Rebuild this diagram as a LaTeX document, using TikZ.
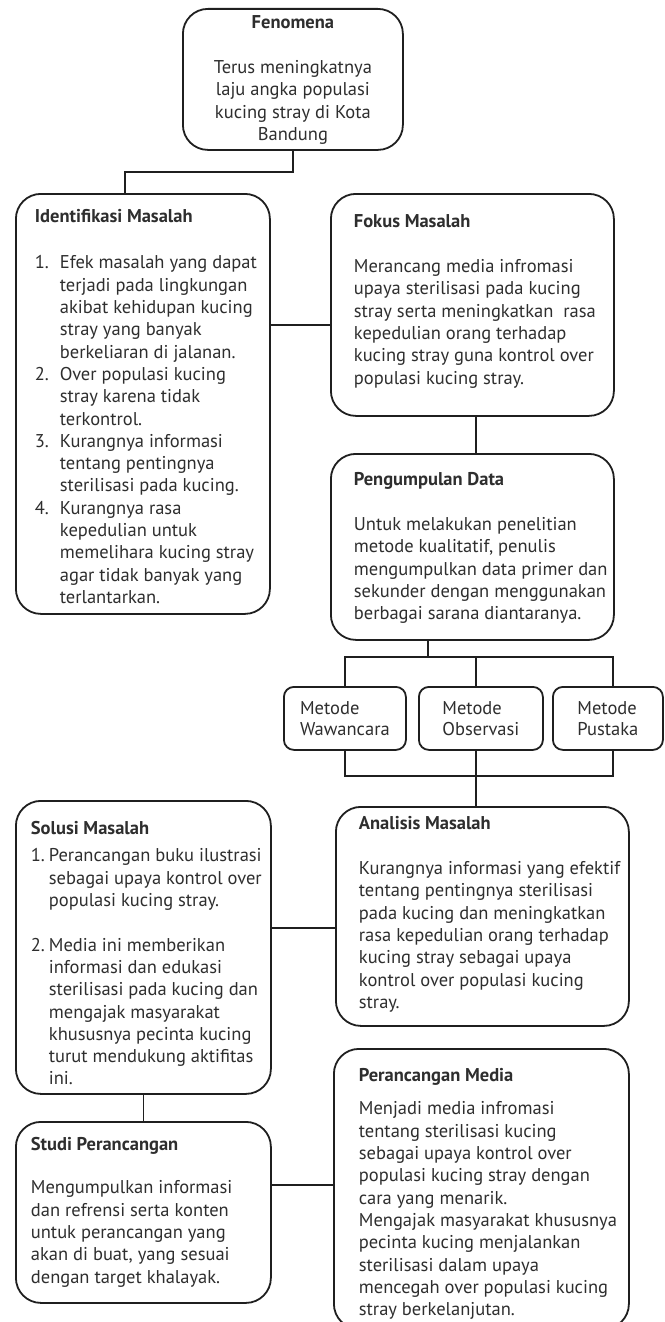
\documentclass[tikz,border=0pt]{standalone}
\usepackage{fontspec}
\setmainfont{PT Sans}
\usetikzlibrary{calc}
% box content: width, height, left pad, first baseline offset, text
\newcommand\bx[5]{\parbox[c][#2pt][t]{#1pt}{\leftskip=#3pt\rightskip=0pt plus 1fil\parfillskip=0pt plus 1fil\parindent=0pt\fontsize{18.5pt}{22.3pt}\selectfont\rule{0pt}{#4pt}#5}}
\newcommand\bxc[4]{\parbox[c][#2pt][t]{#1pt}{\centering\parindent=0pt\fontsize{18.5pt}{22.3pt}\selectfont\rule{0pt}{#3pt}#4}}
\newcommand\numa[1]{\makebox[25pt][l]{#1}}
\newcommand\inda{\hspace*{25pt}}
\newcommand\numb[1]{\makebox[18pt][l]{#1}}
\newcommand\indb{\hspace*{18pt}}
\tikzset{
  box/.style={draw=black!88, line width=1.8pt, rounded corners=25pt, fill=white,
    anchor=north west, inner sep=0pt, text=black!82},
  mbox/.style={draw=black!88, line width=1.8pt, rounded corners=10pt, fill=white,
    anchor=north west, inner sep=0pt, text=black!82, align=left,
    font=\fontsize{18.5pt}{21.5pt}\selectfont},
  conn/.style={draw=black!88, line width=1.8pt},
}
\begin{document}
\begin{tikzpicture}[x=1pt,y=-1pt]
\useasboundingbox (0,0) rectangle (664,1322);

\node[box] (fen) at (182,8) {\bxc{220}{141}{20}{\textbf{Fenomena}\\[22.3pt]Terus meningkatnya\\laju angka populasi\\kucing stray di Kota\\Bandung}};

\node[box] (iden) at (15,193) {\bx{254}{420}{19}{29}{\textbf{Identifikasi Masalah}\\[23.7pt]%
\numa{1.}Efek masalah yang dapat\\
\inda terjadi pada lingkungan\\
\inda akibat kehidupan kucing\\
\inda stray yang banyak\\
\inda berkeliaran di jalanan.\\
\numa{2.}Over populasi kucing\\
\inda stray karena tidak\\
\inda terkontrol.\\
\numa{3.}Kurangnya informasi\\
\inda tentang pentingnya\\
\inda sterilisasi pada kucing.\\
\numa{4.}Kurangnya rasa\\
\inda kepedulian untuk\\
\inda memelihara kucing stray\\
\inda agar tidak banyak yang\\
\inda terlantarkan.}};

\node[box] (fok) at (330,193) {\bx{283}{222}{23}{34}{\textbf{Fokus Masalah}\\[22.3pt]%
Merancang media infromasi\\
upaya sterilisasi pada kucing\\
stray serta meningkatkan\ \ rasa\\
kepedulian orang terhadap\\
kucing stray guna kontrol over\\
populasi kucing stray.}};

\node[box] (peng) at (330,453) {\bx{283}{186}{23}{32}{\textbf{Pengumpulan Data}\\[22.3pt]%
Untuk melakukan penelitian\\
metode kualitatif, penulis\\
mengumpulkan data primer dan\\
sekunder dengan menggunakan\\
berbagai sarana diantaranya.}};

\node[mbox, minimum width=122pt, minimum height=63pt] (mw) at (283,686) {Metode\\Wawancara};
\node[mbox, minimum width=124pt, minimum height=63pt] (mo) at (418,686) {Metode\\Observasi};
\node[mbox, minimum width=110pt, minimum height=63pt] (mp) at (552,686) {Metode\\Pustaka};

\node[box] (an) at (335,806) {\bx{293}{219}{23}{23}{\textbf{Analisis Masalah}\\[22.3pt]%
Kurangnya informasi yang efektif\\
tentang pentingnya sterilisasi\\
pada kucing dan meningkatkan\\
rasa kepedulian orang terhadap\\
kucing stray sebagai upaya\\
kontrol over populasi kucing\\
stray.}};

\node[box] (sol) at (15,800) {\bx{255}{293}{15}{34}{\textbf{Solusi Masalah}\\[4.7pt]%
\numb{1.}Perancangan buku ilustrasi\\
\indb sebagai upaya kontrol over\\
\indb populasi kucing stray.\\[22.3pt]
\numb{2.}Media ini memberikan\\
\indb informasi dan edukasi\\
\indb sterilisasi pada kucing dan\\
\indb mengajak masyarakat\\
\indb khususnya pecinta kucing\\
\indb turut mendukung aktifitas\\
\indb ini.}};

\node[box] (stu) at (15,1121) {\bx{255}{181}{15}{29}{\textbf{Studi Perancangan}\\[20.7pt]%
Mengumpulkan informasi\\
dan refrensi serta konten\\
untuk perancangan yang\\
akan di buat, yang sesuai\\
dengan target khalayak.}};

\node[box] (per) at (333,1048) {\bx{295}{280}{25}{33}{\textbf{Perancangan Media}\\[10.7pt]%
Menjadi media infromasi\\
tentang sterilisasi kucing\\
sebagai upaya kontrol over\\
populasi kucing stray dengan\\
cara yang menarik.\\
Mengajak masyarakat khususnya\\
pecinta kucing menjalankan\\
sterilisasi dalam upaya\\
mencegah over populasi kucing\\
stray berkelanjutan.}};

% connectors
\coordinate (j1) at (125,172);
\coordinate (j2) at (0,325);
\coordinate (j3) at (476,0);
\coordinate (j4) at (428,657);
\coordinate (j5) at (0,776);
\coordinate (j6) at (0,928);
\coordinate (j7) at (0,1185);
\coordinate (px) at (613,0);

\draw[conn] (fen.south) |- (j1) -- (j1 |- iden.north);
\draw[conn] (iden.east |- j2) -- (fok.west |- j2);
\draw[conn] (fok.south -| j3) -- (peng.north -| j3);
\draw[conn] (peng.south -| j4) -- (j4);
\draw[conn] (mw.north) -- (mw.north |- j4) -- (px |- j4) -- (px |- mp.north);
\draw[conn] (mo.north -| j3) -- (j3 |- j4);
\draw[conn] (mw.south) -- (mw.south |- j5) -- (px |- j5) -- (px |- mp.south);
\draw[conn] (mo.south -| j3) -- (an.north -| j3);
\draw[conn] (sol.east |- j6) -- (an.west |- j6);
\draw[conn] (sol.south) -- (stu.north);
\draw[conn] (stu.east |- j7) -- (per.west |- j7);
\end{tikzpicture}
\end{document}
